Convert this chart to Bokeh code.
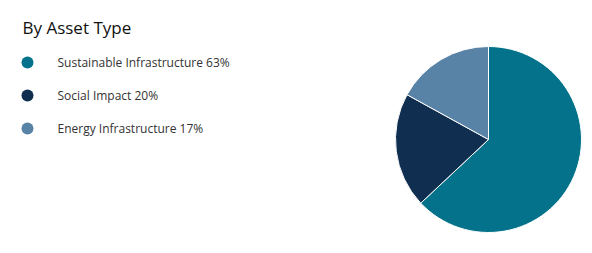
import math
from bokeh.plotting import figure
from bokeh.models import ColumnDataSource, Range1d
from bokeh.core.properties import value
from bokeh.embed import file_html
from bokeh.resources import INLINE

title_text = "By Asset Type"
categories = ["Sustainable Infrastructure", "Social Impact", "Energy Infrastructure"]
shares = [63, 20, 17]
colors = ["#04728a", "#102e4f", "#5883a6"]

W, H = 592, 253
p = figure(width=W, height=H, output_backend="svg", toolbar_location=None,
           x_range=Range1d(0, W), y_range=Range1d(0, H), min_border=0)
p.axis.visible = False
p.grid.visible = False
p.outline_line_color = None
p.background_fill_color = "white"
p.border_fill_color = "white"

total = sum(shares)
starts, ends = [], []
acc = 0.0
for s in shares:
    a0 = math.pi / 2 - acc / total * 2 * math.pi
    acc += s
    a1 = math.pi / 2 - acc / total * 2 * math.pi
    starts.append(a1)
    ends.append(a0)

src = ColumnDataSource(dict(start=starts, end=ends, color=colors))
p.wedge(x=488, y=H - 139, radius=93, radius_units="screen",
        start_angle="start", end_angle="end", fill_color="color",
        line_color="white", line_width=1, source=src)

labels = [f"{c} {s}%" for c, s in zip(categories, shares)]
ly = [H - 62, H - 95, H - 128]
lsrc = ColumnDataSource(dict(y=ly, label=labels, color=colors))
p.scatter(x=27, y="y", size=12, fill_color="color", line_color=None, source=lsrc)
p.text(x=57, y="y", text="label", text_font=value("Open Sans"), text_font_size="12px",
       text_color="#333333", text_baseline="middle", source=lsrc)

p.text(x=[22], y=[H - 27], text=[title_text], text_font=value("Open Sans"), text_font_size="17px",
       text_color="#111111", text_baseline="middle")

open("out.html", "w").write(file_html(p, INLINE))
